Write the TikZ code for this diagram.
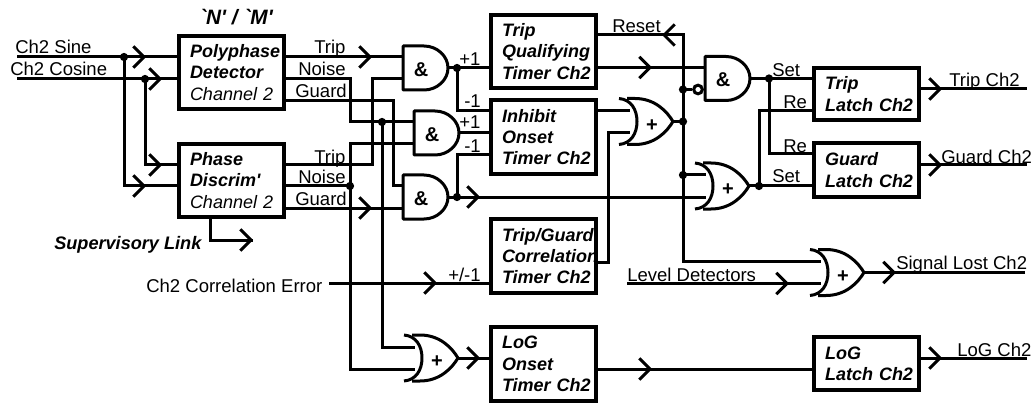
\documentclass[tikz,border=0pt]{standalone}
\usepackage{fontspec}
\usetikzlibrary{arrows.meta}
\newfontfamily\rawf{Liberation Sans}
\tikzset{
  wire/.style={line width=2.25pt,line cap=butt,line join=miter},
  chevron/.style={line width=2.25pt,-{Straight Barb[length=8pt,width=16pt,line width=2.25pt]}},
  gate/.style={line width=2.25pt,line join=round},
  blockbox/.style={draw,line width=3pt,rectangle,inner xsep=8.25pt,inner ysep=0pt,outer sep=0pt,
    minimum width=78.75pt,text width=62.25pt,align=left,
    font=\rawf\fontsize{13.5}{16}\selectfont\bfseries\itshape},
  lbl/.style={inner sep=0pt,anchor=base west,font=\rawf\fontsize{13.9}{16}\selectfont},
  boldlbl/.style={inner sep=0pt,anchor=base west,font=\rawf\fontsize{13.6}{16}\selectfont\bfseries\itshape},
  gatesym/.style={inner sep=0pt,font=\rawf\fontsize{15}{16}\selectfont\bfseries},
  junction/.style={circle,fill=black,inner sep=0pt,minimum size=6.2pt},
  bubble/.style={circle,draw,fill=white,line width=2.25pt,inner sep=0pt,minimum size=6.5pt}
}
\newcommand{\andgate}[3]{%
  \draw[gate] ({#2+21},{#3-22}) -- (#2,{#3-22}) -- (#2,{#3+22}) -- ({#2+21},{#3+22})
    .. controls ({#2+34},{#3+22}) and ({#2+45},{#3+12}) .. ({#2+45},#3)
    .. controls ({#2+45},{#3-12}) and ({#2+34},{#3-22}) .. ({#2+21},{#3-22}) -- cycle;
  \node[gatesym] (#1) at ({#2+18},{#3+1.5}) {\&};
  \coordinate (#1-a) at (#2,{#3-11});
  \coordinate (#1-b) at (#2,{#3+11});
  \coordinate (#1-o) at ({#2+45},#3);
}
\newcommand{\orgate}[3]{%
  \draw[gate] (#2,{#3-23}) .. controls ({#2+12},{#3-22}) and ({#2+18},{#3-12}) .. ({#2+18},#3)
    .. controls ({#2+18},{#3+12}) and ({#2+12},{#3+22}) .. (#2,{#3+23});
  \draw[gate] ({#2+8},{#3-23}) -- ({#2+16},{#3-23})
    .. controls ({#2+36},{#3-23}) and ({#2+48},{#3-10}) .. ({#2+54},#3)
    .. controls ({#2+48},{#3+10}) and ({#2+36},{#3+23}) .. ({#2+16},{#3+23}) -- ({#2+8},{#3+23});
  \node[gatesym] (#1) at ({#2+33},{#3+4}) {+};
  \coordinate (#1-a) at ({#2+11},{#3-11});
  \coordinate (#1-b) at ({#2+11},{#3+11});
  \coordinate (#1-o) at ({#2+54},#3);
}
\newcommand{\chevR}[2]{\path[draw,chevron] ({#1-12},#2) -- (#1,#2);}
\newcommand{\chevL}[2]{\path[draw,chevron] ({#1+12},#2) -- (#1,#2);}
\begin{document}
\begin{tikzpicture}[x=0.75pt,y=-0.75pt]
\useasboundingbox (0,0) rectangle (1033,403);

% blocks
\node[blockbox,minimum height=54.75pt] (pd) at (231.5,72.5) {\mbox{Polyphase}\\\mbox{Detector}\\\mbox{\mdseries Channel 2}};
\node[blockbox,minimum height=54.75pt] (px) at (231.5,180.5) {\mbox{Phase}\\\mbox{Discrim'}\\\mbox{\mdseries Channel 2}};
\node[blockbox,minimum height=54.75pt] (tq) at (543.5,51.5) {\mbox{Trip}\\\mbox{Qualifying}\\\mbox{Timer Ch2}};
\node[blockbox,minimum height=55.5pt] (inh) at (543.5,137) {\mbox{Inhibit}\\\mbox{Onset}\\\mbox{Timer Ch2}};
\node[blockbox,minimum height=55.5pt] (tg) at (543.5,256) {\mbox{Trip/Guard}\\\mbox{Correlation}\\\mbox{Timer Ch2}};
\node[blockbox,minimum height=55.5pt] (lo) at (543.5,364) {\mbox{LoG}\\\mbox{Onset}\\\mbox{Timer Ch2}};
\node[blockbox,minimum height=39pt] (tl) at (866.5,94) {\mbox{Trip}\\\mbox{Latch Ch2}};
\node[blockbox,minimum height=40.5pt] (gl) at (866.5,170) {\mbox{Guard}\\\mbox{Latch Ch2}};
\node[blockbox,minimum height=39.75pt] (ll) at (866.5,363.5) {\mbox{LoG}\\\mbox{Latch Ch2}};

% gates
\andgate{a1}{403}{68}
\andgate{a2}{414}{133}
\andgate{a3}{403}{197}
\andgate{a4}{705}{78.5}
\orgate{o1}{619}{121.5}
\orgate{o2}{695}{186}
\orgate{o3}{810}{272.5}
\orgate{o4}{404}{358}

% free ends and bends
\coordinate (sinein) at (17,57);
\coordinate (cosin) at (17,79);
\coordinate (k1) at (393,101);
\coordinate (k2) at (372,165);
\coordinate (k3) at (683,35);
\coordinate (k4) at (608,262);
\coordinate (levin) at (627,283.5);
\coordinate (ceIn) at (329,283);
\coordinate (supA) at (210,217);
\coordinate (supB) at (253,240);
\coordinate (outS) at (1025,272.5);
\coordinate (outT) at (1027,89);
\coordinate (outG) at (1027,165);
\coordinate (outL) at (1027,358);
\coordinate (pyN) at (284,79);
\coordinate (pyG) at (284,101);
\coordinate (xT) at (284,165);
\coordinate (xN) at (284,186);
\coordinate (xG) at (284,208);

% junctions
\node[junction] (j1) at (124,57) {};
\node[junction] (j2) at (145,79) {};
\node[junction] (jn) at (350,186) {};
\node[junction] (jm) at (382,122) {};
\node[junction] (ja) at (457,68) {};
\node[junction] (jb) at (457,197) {};
\node[junction] (jc) at (683,89.5) {};
\node[junction] (jd) at (683,121.5) {};
\node[junction] (je) at (683,175) {};
\node[junction] (jf) at (769,78.5) {};
\node[junction] (jg) at (759,186) {};
\node[bubble] (nb) at (698,89.5) {};

% wires
\draw[wire] (sinein) -- (pd.west |- sinein);
\draw[wire] (cosin) -- (pd.west |- cosin);
\draw[wire] (j1.center) |- (px.west |- xN);
\draw[wire] (j2.center) |- (px.west |- xT);
\draw[wire] (pd.east |- a1-a) -- (a1-a);
\draw[wire] (pyN) -- (pyN -| jn) -- (jn |- a2-a) -- (a2-a);
\draw[wire] (pyG) -- (k1) -- (k1 |- a3-a) -- (a3-a);
\draw[wire] (xT) -- (k2) -- (k2 |- a1-b) -- (a1-b);
\draw[wire] (xN) -- (jn.center);
\draw[wire] (a2-b) -- (a2-b -| jn) -- (jn |- o4-b) -- (o4-b);
\draw[wire] (jm.center) |- (o4-a);
\draw[wire] (xG) -- (a3-b);
\draw[wire] (a1-o) -- (tq.west |- a1-o);
\draw[wire] (ja.center) |- (inh.west |- 0,111);
\draw[wire] (a2-o) -- (inh.west |- a2-o);
\draw[wire] (a3-o) -- (o2-b);
\draw[wire] (jb.center) |- (inh.west |- 0,155);
\draw[wire] (tq.east |- k3) -- (k3) |- (o3-a);
\draw[wire] (tq.east |- a4-a) -- (a4-a);
\draw[wire] (jc.center) -- (nb.west);
\draw[wire] (inh.east |- o1-a) -- (o1-a);
\draw[wire] (tg.east |- k4) -- (k4) |- (o1-b);
\draw[wire] (o1-o) -- (jd.center);
\draw[wire] (je.center) -- (o2-a);
\draw[wire] (a4-o) -- (tl.west |- a4-o);
\draw[wire] (jf.center) |- (gl.west |- 0,154);
\draw[wire] (o2-o) -- (gl.west |- o2-o);
\draw[wire] (jg.center) |- (tl.west |- 0,111);
\draw[wire] (levin) -- (o3-b);
\draw[wire] (o3-o) -- (outS);
\draw[wire] (ceIn) -- (tg.west |- ceIn);
\draw[wire] (o4-o) -- (lo.west |- o4-o);
\draw[wire] (lo.east |- 0,369) -- (ll.west |- 0,369);
\draw[wire] (tl.east |- outT) -- (outT);
\draw[wire] (gl.east |- outG) -- (outG);
\draw[wire] (ll.east |- outL) -- (outL);
\draw[wire] (supA) |- (supB);

% chevrons
\chevR{146}{57} \chevR{162}{79} \chevR{162}{165} \chevR{146}{186}
\chevR{372}{57} \chevR{372}{208} \chevR{480}{197}
\chevL{662}{35} \chevR{652}{67.5}
\chevR{437}{283} \chevR{480}{358} \chevR{652}{369}
\chevR{789}{283.5} \chevR{896}{272.5}
\chevR{942}{89} \chevR{942}{165} \chevR{942}{358}
\chevR{253}{240}

% labels
\node[boldlbl,font=\rawf\fontsize{15.6}{16}\selectfont\bfseries\itshape,anchor=base] (tNM) at (236,25) {`N' / `M'};
\node[lbl] (t1) at (15,54) {Ch2 Sine};
\node[lbl] (t2) at (10,76) {Ch2 Cosine};
\node[lbl] (t3) at (314,54) {Trip};
\node[lbl] (t4) at (298,76) {Noise};
\node[lbl] (t5) at (295,98) {Guard};
\node[lbl] (t6) at (314,163) {Trip};
\node[lbl] (t7) at (298,184) {Noise};
\node[lbl] (t8) at (295,205) {Guard};
\node[boldlbl] (t9) at (54,249) {Supervisory Link};
\node[lbl] (t10) at (146,292) {Ch2 Correlation Error};
\node[lbl] (t11) at (459,66) {+1};
\node[lbl] (t12) at (464,108) {-1};
\node[lbl] (t13) at (459,129) {+1};
\node[lbl] (t14) at (464,152) {-1};
\node[lbl] (t15) at (448,281) {+/-1};
\node[lbl] (t16) at (612,33) {Reset};
\node[lbl] (t17) at (772,77) {Set};
\node[lbl] (t18) at (783,109) {Re};
\node[lbl] (t19) at (783,152) {Re};
\node[lbl] (t20) at (772,183) {Set};
\node[lbl] (t21) at (949,87) {Trip Ch2};
\node[lbl] (t22) at (941,163) {Guard Ch2};
\node[lbl] (t23) at (896,269) {Signal Lost Ch2};
\node[lbl] (t24) at (957,356) {LoG Ch2};
\node[lbl] (t25) at (627,281) {Level Detectors};
\end{tikzpicture}
\end{document}
